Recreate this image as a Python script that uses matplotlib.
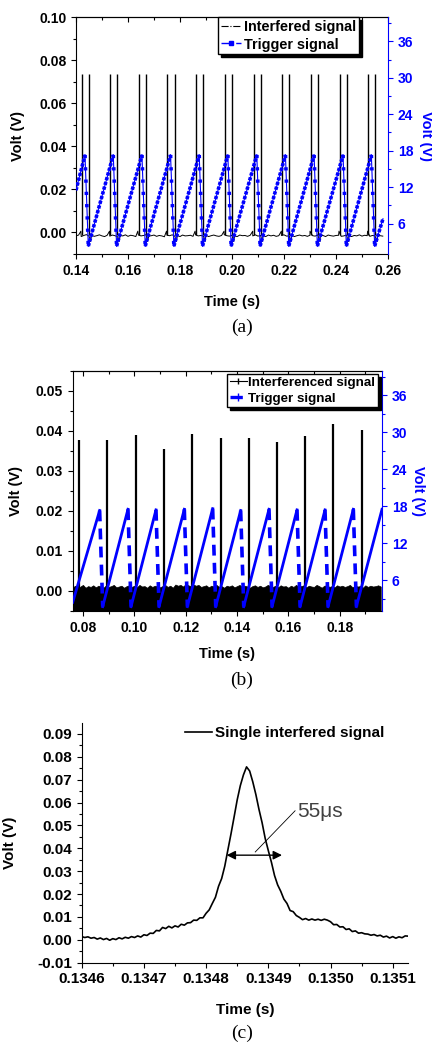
import numpy as np
import matplotlib.pyplot as plt
from matplotlib.lines import Line2D
from matplotlib.ticker import MultipleLocator, FormatStrFormatter

plt.rcParams['font.family'] = ['Liberation Sans', 'DejaVu Sans']
plt.rcParams['font.weight'] = 'bold'
plt.rcParams['axes.labelweight'] = 'bold'

BLUE = '#0000ff'

# ---------------- panel (a) data ----------------
a_spike_t = [0.14218, 0.14487, 0.15319, 0.15588, 0.16408, 0.16677, 0.17510, 0.17792,
             0.18611, 0.18893, 0.19726, 0.19995, 0.20828, 0.21097, 0.21930, 0.22199,
             0.23031, 0.23313, 0.24146, 0.24415, 0.25247, 0.25516]
a_spike_v = [0.0735] * len(a_spike_t)
# baseline noise (mV), one reading every 1 ms from 0.140 s
a_noise_mv = [
    -1.6, -1.2, -1.9, -1.4, -1.0, -1.7, -1.3, -1.8, -1.5, -1.1,
    -1.6, -1.9, -1.3, -1.7, -1.2, -1.5, -2.0, -1.4, -1.6, -1.1,
    -1.8, -1.3, -1.5, -1.9, -1.2, -1.6, -1.4, -1.0, -1.7, -1.5,
    -1.2, -1.8, -1.4, -1.6, -2.0, -1.3, -1.5, -1.1, -1.7, -1.4,
    -1.9, -1.2, -1.6, -1.5, -1.3, -1.8, -1.1, -1.6, -1.4, -1.7,
    -1.3, -1.9, -1.5, -1.2, -1.6, -1.8, -1.4, -1.0, -1.5, -1.7,
    -1.3, -1.6, -1.9, -1.2, -1.5, -1.4, -1.8, -1.3, -1.6, -1.1,
    -1.7, -1.4, -1.5, -1.9, -1.2, -1.6, -1.3, -1.8, -1.5, -1.4,
    -1.1, -1.7, -1.6, -1.3, -1.9, -1.5, -1.2, -1.6, -1.4, -1.8,
    -1.3, -1.5, -1.7, -1.1, -1.6, -1.4, -1.9, -1.2, -1.5, -1.7,
    -1.4, -1.3, -1.8, -1.6, -1.2, -1.5, -1.9, -1.4, -1.6, -1.1,
    -1.7, -1.3, -1.5, -1.8, -1.4, -1.6, -1.2, -1.5, -1.7]
a_bump_t = [0.14188, 0.15289, 0.16378, 0.17480, 0.18581, 0.19696, 0.20798, 0.21900,
            0.23001, 0.24116, 0.25217]
a_bump_v = [0.0006] * len(a_bump_t)
a_dip_t = [0.14557, 0.15658, 0.16747, 0.17862, 0.18963, 0.20065, 0.21167, 0.22269,
           0.23383, 0.24485, 0.25586]
a_dip_v = [-0.0042] * len(a_dip_t)

a_trig_start = (0.1400, 11.5)
a_peak_t = [0.14346, 0.15434, 0.16536, 0.17637, 0.18739, 0.19840, 0.20954, 0.22056,
            0.23157, 0.24271, 0.25360]
a_peak_v = [17.3] * len(a_peak_t)
a_min_t = [0.14474, 0.15562, 0.16664, 0.17765, 0.18867, 0.19968, 0.21082, 0.22184,
           0.23285, 0.24399, 0.25488]
a_min_v = [2.3] * len(a_min_t)
a_trig_end = (0.25808, 6.8)

# ---------------- panel (b) data ----------------
b_spike_t = [0.07857, 0.08948, 0.10065, 0.11169, 0.12260, 0.13364, 0.14468, 0.15571,
             0.16662, 0.17753, 0.18870]
b_spike_v = [0.0377, 0.0377, 0.0390, 0.0355, 0.0393, 0.0381, 0.0381, 0.0371,
             0.0386, 0.0417, 0.0402]
# top edge of the noise band (mV), one reading every 1 ms from 0.076 s
b_band_mv = [
    0.9, 1.3, 0.7, 1.1, 1.5, 0.8, 1.2, 1.0, 1.4, 0.9,
    1.3, 1.1, 0.8, 1.4, 1.0, 1.2, 1.5, 0.9, 1.1, 1.3,
    0.8, 1.2, 1.4, 1.0, 1.3, 0.9, 1.5, 1.1, 1.2, 0.8,
    1.4, 1.0, 1.3, 1.1, 0.9, 1.2, 1.5, 1.0, 1.3, 0.8,
    1.6, 1.3, 1.5, 1.1, 1.7, 1.4, 1.2, 1.6, 1.3, 1.5,
    1.0, 1.2, 1.4, 0.9, 1.3, 1.1, 1.5, 1.0, 1.2, 0.8,
    1.3, 1.1, 1.4, 0.9, 1.2, 1.5, 1.0, 1.3, 1.1, 0.8,
    1.2, 1.4, 1.0, 1.3, 0.9, 1.1, 1.5, 1.2, 1.0, 1.3,
    0.9, 1.4, 1.1, 1.2, 0.8, 1.3, 1.0, 1.5, 1.1, 1.2,
    1.4, 0.9, 1.3, 1.1, 1.0, 1.5, 1.2, 0.8, 1.3, 1.4,
    1.0, 1.2, 0.9, 1.4, 1.1, 1.3, 1.0, 1.2, 1.5, 0.9,
    1.3, 1.1, 1.2, 0.8, 1.4, 1.0, 1.3, 1.1, 1.2, 1.4,
    1.1]

b_trig_start = (0.0760, 2.4)
b_peak_t = [0.08649, 0.09753, 0.10844, 0.11948, 0.13052, 0.14143, 0.15247, 0.16338,
            0.17429, 0.18532]
b_peak_v = [17.3, 17.5, 17.4, 17.5, 17.6, 17.3, 17.5, 17.4, 17.4, 17.5]
b_min_t = [0.08769, 0.09873, 0.10964, 0.12068, 0.13172, 0.14263, 0.15367, 0.16458,
           0.17549, 0.18652]
b_min_v = [1.7] * len(b_min_t)
b_trig_end = (0.1965, 17.5)

# ---------------- panel (c) data ----------------
# single pulse (mV), one reading every 5 us from 0.1346 s
c_pulse_mv = [
    1.4, 1.0, 1.3, 0.7, 1.0, 0.3, 0.8, 0.1, 0.6, -0.2,
    0.5, 0.1, 0.9, 0.4, 1.1, 0.7, 1.4, 1.0, 1.7, 1.2,
    2.2, 1.9, 2.9, 2.8, 4.1, 3.9, 5.4, 4.9, 5.9, 5.2,
    6.1, 5.6, 6.8, 6.4, 7.4, 7.5, 8.6, 8.5, 9.6, 9.6,
    11.6, 13.1, 15.9, 18.6, 23.4, 26.8, 32.2, 39.3, 46.3, 53.7,
    61.2, 67.4, 72.1, 75.6, 73.8, 69.1, 63.5, 57.0, 51.2, 44.3,
    39.0, 33.9, 28.1, 24.0, 21.2, 17.8, 15.9, 12.8, 12.3, 10.6,
    9.8, 8.8, 9.3, 8.6, 9.1, 8.6, 9.0, 8.5, 9.0, 8.6,
    7.9, 6.6, 6.7, 5.6, 5.7, 4.5, 4.8, 3.6, 3.9, 2.9,
    3.1, 2.6, 2.5, 2.0, 2.3, 1.7, 2.0, 1.2, 1.6, 0.8,
    1.4, 0.7, 1.3, 0.9, 1.7, 1.6]
c_t0, c_dt = 0.1346, 5e-6
c_arrow_t = [0.134833, 0.134922]
c_arrow_v = 0.037
c_lead_t = [0.134879, 0.134943]
c_lead_v = [0.0384, 0.0564]
c_label_pos = (0.134947, 0.0559)


def sawtooth(start, peak_t, peak_v, min_t, min_v, end):
    ramp_t, ramp_v, drop_t, drop_v = [], [], [], []
    pt0, pv0 = start
    for pt, pv, mt, mv in zip(peak_t, peak_v, min_t, min_v):
        ramp_t += [pt0, pt, np.nan]
        ramp_v += [pv0, pv, np.nan]
        drop_t += [pt, mt, np.nan]
        drop_v += [pv, mv, np.nan]
        pt0, pv0 = mt, mv
    ramp_t += [pt0, end[0]]
    ramp_v += [pv0, end[1]]
    return ramp_t, ramp_v, drop_t, drop_v


def style_axes(ax, fs):
    ax.tick_params(which='both', direction='out', labelsize=fs, top=False, right=False, width=0.8)
    ax.tick_params(which='major', length=3.5)
    ax.tick_params(which='minor', length=2)
    ax.spines['right'].set_visible(False)
    top = ax.secondary_xaxis('top')
    top.xaxis.set_major_locator(ax.xaxis.get_major_locator())
    top.xaxis.set_minor_locator(ax.xaxis.get_minor_locator())
    top.tick_params(which='both', direction='in', labeltop=False, width=0.8)
    top.tick_params(which='major', length=3.5)
    top.tick_params(which='minor', length=2)


def style_right(ax2, fs):
    ax2.set_ylim(1, 40)
    ax2.yaxis.set_major_locator(MultipleLocator(6))
    ax2.yaxis.set_minor_locator(MultipleLocator(3))
    for s in ['left', 'top', 'bottom']:
        ax2.spines[s].set_visible(False)
    ax2.spines['right'].set_color(BLUE)
    ax2.tick_params(which='both', colors=BLUE, labelsize=fs, width=0.8)
    ax2.tick_params(which='major', length=3.5)
    ax2.tick_params(which='minor', length=2)


fig = plt.figure(figsize=(4.32, 10.44), dpi=100)

# ---------------- (a) ----------------
ax = fig.add_axes([0.1759, 0.7567, 0.7222, 0.2270])
noise_t = 0.140 + 0.001 * np.arange(len(a_noise_mv))
tr_t = np.concatenate([noise_t, a_bump_t, a_dip_t])
tr_v = np.concatenate([np.array(a_noise_mv) / 1000, a_bump_v, a_dip_v])
order = np.argsort(tr_t)
ax.plot(tr_t[order], tr_v[order], color='black', lw=0.7)
ax.vlines(a_spike_t, -0.001, a_spike_v, color='black', lw=1.0)
ax.set_xlim(0.14, 0.26)
ax.set_ylim(-0.01, 0.10)
ax.xaxis.set_major_locator(MultipleLocator(0.02))
ax.xaxis.set_minor_locator(MultipleLocator(0.01))
ax.yaxis.set_major_locator(MultipleLocator(0.02))
ax.yaxis.set_minor_locator(MultipleLocator(0.01))
ax.xaxis.set_major_formatter(FormatStrFormatter('%.2f'))
ax.yaxis.set_major_formatter(FormatStrFormatter('%.2f'))
style_axes(ax, 10)
ax.set_xlabel('Time (s)', fontsize=10.5)
ax.set_ylabel('Volt (V)', fontsize=10.5)
ax.xaxis.set_label_coords(0.5, -0.173)
ax.yaxis.set_label_coords(-0.163, 0.5)

ax2 = ax.twinx()
rt, rv, dt_, dv = sawtooth(a_trig_start, a_peak_t, a_peak_v, a_min_t, a_min_v, a_trig_end)
ax2.plot(rt, rv, color=BLUE, lw=0.8)
ax2.plot(dt_, dv, color=BLUE, lw=0.8)
ax2.plot(rt, rv, color=BLUE, lw=2.6, linestyle=(0, (0.9, 0.45)))
ax2.plot(dt_, dv, color=BLUE, lw=2.6, linestyle=(0, (0.9, 2.5)))
style_right(ax2, 10)
ax2.set_ylabel('Volt (V)', fontsize=10.5, color=BLUE, rotation=270, ha='center', va='center')
ax2.yaxis.set_label_coords(1.122, 0.5)
ha = [Line2D([], [], color='black', lw=0.8, ls='-.'),
      Line2D([], [], color=BLUE, lw=1.0, ls='-.', marker='s', markersize=3)]
leg = ax2.legend(ha, ['Interfered signal', 'Trigger signal'], loc='upper right',
                 bbox_to_anchor=(0.907, 1.0), borderaxespad=0, fontsize=10.4,
                 fancybox=False, edgecolor='black', framealpha=1, borderpad=0.2,
                 labelspacing=0.25, handlelength=1.4, handletextpad=0.2,
                 shadow={'color': 'black', 'alpha': 1})
leg.get_frame().set_linewidth(1.0)
fig.text(0.560, 0.6868, '(a)', family='Liberation Serif', fontweight='normal',
         fontsize=14, ha='center', va='center')

# ---------------- (b) ----------------
bx = fig.add_axes([0.1683, 0.4148, 0.7160, 0.2302])
band_t = 0.076 + 0.001 * np.arange(len(b_band_mv))
bx.fill_between(band_t, -0.006, np.array(b_band_mv) / 1000, color='black', lw=0.5)
bx.vlines(b_spike_t, 0.0005, b_spike_v, color='black', lw=1.6)
bx.set_xlim(0.076, 0.1965)
bx.set_ylim(-0.005, 0.055)
bx.xaxis.set_major_locator(MultipleLocator(0.02))
bx.xaxis.set_minor_locator(MultipleLocator(0.01))
bx.yaxis.set_major_locator(MultipleLocator(0.01))
bx.yaxis.set_minor_locator(MultipleLocator(0.005))
bx.xaxis.set_major_formatter(FormatStrFormatter('%.2f'))
bx.yaxis.set_major_formatter(FormatStrFormatter('%.2f'))
style_axes(bx, 10)
bx.set_xlabel('Time (s)', fontsize=10.5)
bx.set_ylabel('Volt (V)', fontsize=10.5)
bx.xaxis.set_label_coords(0.5, -0.149)
bx.yaxis.set_label_coords(-0.162, 0.5)

bx2 = bx.twinx()
rt, rv, dt_, dv = sawtooth(b_trig_start, b_peak_t, b_peak_v, b_min_t, b_min_v, b_trig_end)
bx2.plot(rt, rv, color=BLUE, lw=2.0)
bx2.plot(dt_, dv, color=BLUE, lw=2.6, linestyle=(0, (3, 2)))
style_right(bx2, 10)
bx2.set_ylabel('Volt (V)', fontsize=10.5, color=BLUE, rotation=270, ha='center', va='center')
bx2.yaxis.set_label_coords(1.116, 0.5)
hb = [Line2D([], [], color='black', lw=0.8, marker='|', markersize=5),
      Line2D([], [], color=BLUE, lw=2.4, ls='--', marker='|', markersize=6)]
leg = bx2.legend(hb, ['Interferenced signal', 'Trigger signal'], loc='upper right',
                 bbox_to_anchor=(0.987, 0.986), borderaxespad=0, fontsize=9.6,
                 fancybox=False, edgecolor='black', framealpha=1, borderpad=0.2,
                 labelspacing=0.25, handlelength=1.3, handletextpad=0.1,
                 shadow={'color': 'black', 'alpha': 1})
leg.get_frame().set_linewidth(1.0)
fig.text(0.560, 0.3487, '(b)', family='Liberation Serif', fontweight='normal',
         fontsize=14, ha='center', va='center')

# ---------------- (c) ----------------
cx = fig.add_axes([0.1891, 0.0779, 0.7560, 0.2296])
c_t = c_t0 + c_dt * np.arange(len(c_pulse_mv))
cx.plot(c_t, np.array(c_pulse_mv) / 1000, color='black', lw=1.2,
        label='Single interfered signal')
cx.annotate('', xy=(c_arrow_t[0], c_arrow_v), xytext=(c_arrow_t[1], c_arrow_v),
            arrowprops=dict(arrowstyle='<|-|>', color='black', lw=1.0,
                            mutation_scale=13, shrinkA=0, shrinkB=0))
cx.plot(c_lead_t, c_lead_v, color='black', lw=0.6)
cx.text(c_label_pos[0], c_label_pos[1], '55\u03bcs', fontsize=15, fontweight='normal',
        color='#404040', ha='left', va='center')
cx.set_xlim(0.1346, 0.135125)
cx.set_ylim(-0.01, 0.0948)
cx.xaxis.set_major_locator(MultipleLocator(0.0001))
cx.xaxis.set_minor_locator(MultipleLocator(0.00005))
cx.yaxis.set_major_locator(MultipleLocator(0.01))
cx.yaxis.set_minor_locator(MultipleLocator(0.005))
cx.xaxis.set_major_formatter(FormatStrFormatter('%.4f'))
cx.yaxis.set_major_formatter(FormatStrFormatter('%.2f'))
cx.tick_params(which='both', direction='out', labelsize=11, width=0.8)
cx.tick_params(which='major', length=3.5)
cx.tick_params(which='minor', length=2)
cx.spines['top'].set_visible(False)
cx.spines['right'].set_visible(False)
cx.set_xlabel('Time (s)', fontsize=11)
cx.set_ylabel('Volt (V)', fontsize=11)
cx.xaxis.set_label_coords(0.5, -0.167)
cx.yaxis.set_label_coords(-0.199, 0.5)
cx.legend(loc='center left', bbox_to_anchor=(0.316, 0.958), borderaxespad=0,
          borderpad=0, frameon=False, fontsize=11, handlelength=1.8, handletextpad=0.2)
fig.text(0.560, 0.0105, '(c)', family='Liberation Serif', fontweight='normal',
         fontsize=14, ha='center', va='center')

fig.savefig('out.png', dpi=100)
